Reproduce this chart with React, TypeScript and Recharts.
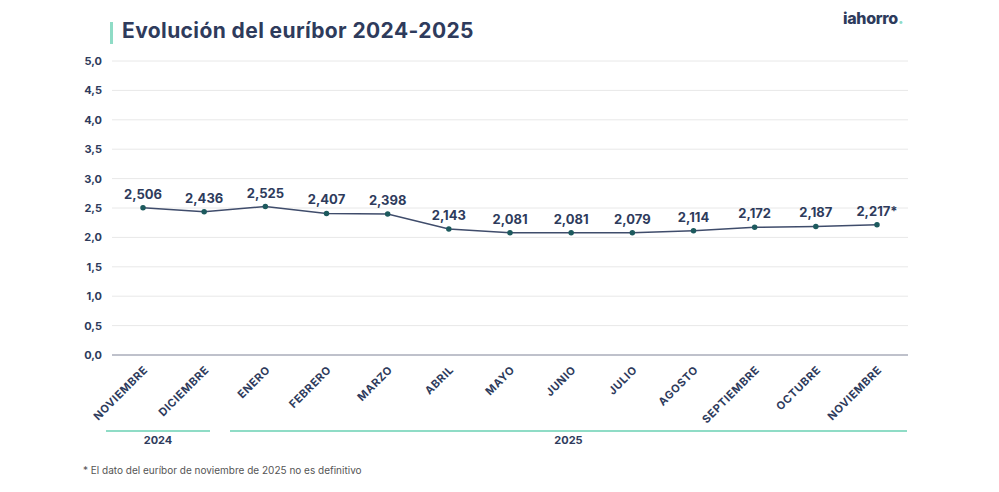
import { CartesianGrid, LabelList, Line, LineChart, XAxis, YAxis } from "recharts";

const MONTHS = [
  "NOVIEMBRE",
  "DICIEMBRE",
  "ENERO",
  "FEBRERO",
  "MARZO",
  "ABRIL",
  "MAYO",
  "JUNIO",
  "JULIO",
  "AGOSTO",
  "SEPTIEMBRE",
  "OCTUBRE",
  "NOVIEMBRE",
];

const EURIBOR = [2.506, 2.436, 2.525, 2.407, 2.398, 2.143, 2.081, 2.081, 2.079, 2.114, 2.172, 2.187, 2.217];

const Y_TICKS = [0, 0.5, 1, 1.5, 2, 2.5, 3, 3.5, 4, 4.5, 5];

const NAVY = "#2e3b5c";
const TEAL = "#8fdcc6";
const FONT = "Inter, 'Open Sans', sans-serif";

const data = MONTHS.map((m, i) => ({ idx: i, month: m, value: EURIBOR[i] }));

const fmt = (v: number, digits: number) => v.toFixed(digits).replace(".", ",");

export default function App() {
  return (
    <div
      style={{
        position: "absolute",
        top: 0,
        left: 0,
        width: 999,
        height: 492,
        background: "#fff",
        fontFamily: FONT,
        color: NAVY,
      }}
    >
      <div style={{ position: "absolute", left: 110, top: 22, width: 3, height: 22, background: TEAL }} />
      <div style={{ position: "absolute", left: 122, top: 18, fontSize: 21, fontWeight: 700, letterSpacing: 0.4 }}>
        Evolución del euríbor 2024-2025
      </div>
      <div style={{ position: "absolute", left: 843, top: 8, fontSize: 16, fontWeight: 800, letterSpacing: -0.3 }}>
        iahorro<span style={{ color: TEAL }}>.</span>
      </div>

      <LineChart
        width={999}
        height={492}
        data={data}
        margin={{ top: 61, right: 91, bottom: 77, left: 72 }}
      >
        <CartesianGrid horizontal vertical={false} stroke="#e8e8e8" />
        <XAxis
          dataKey="idx"
          type="category"
          tickFormatter={(i: number) => MONTHS[i]}
          interval={0}
          angle={-45}
          textAnchor="end"
          height={60}
          padding={{ left: 31, right: 31 }}
          tickLine={false}
          axisLine={{ stroke: "#8a8fa3" }}
          tick={{ fill: NAVY, fontSize: 11, fontWeight: 700, fontFamily: FONT, letterSpacing: 0.6 }}
          tickMargin={4}
        />
        <YAxis
          domain={[0, 5]}
          ticks={Y_TICKS}
          width={40}
          tickLine={false}
          axisLine={false}
          tickFormatter={(v: number) => fmt(v, 1)}
          tick={{ fill: NAVY, fontSize: 11, fontWeight: 700, fontFamily: FONT }}
          tickMargin={4}
        />
        <Line
          dataKey="value"
          stroke="#3f4c6b"
          strokeWidth={1.5}
          dot={{ r: 2, fill: "#1d5a5e", stroke: "#1d5a5e" }}
          isAnimationActive={false}
        >
          <LabelList
            dataKey="value"
            position="top"
            offset={9}
            formatter={(v: number) => {
              const s = fmt(v, 3);
              return v === EURIBOR[EURIBOR.length - 1] ? s + "*" : s;
            }}
            style={{ fill: NAVY, fontSize: 13, fontWeight: 700, fontFamily: FONT }}
          />
        </Line>
      </LineChart>

      <div style={{ position: "absolute", left: 106, top: 430, width: 104, height: 1.5, background: TEAL }} />
      <div style={{ position: "absolute", left: 230, top: 430, width: 677, height: 1.5, background: TEAL }} />
      <div style={{ position: "absolute", left: 106, top: 433, width: 104, textAlign: "center", fontSize: 11, fontWeight: 700 }}>
        2024
      </div>
      <div style={{ position: "absolute", left: 230, top: 433, width: 677, textAlign: "center", fontSize: 11, fontWeight: 700 }}>
        2025
      </div>
      <div style={{ position: "absolute", left: 83, top: 464, fontSize: 10, color: "#555" }}>
        * El dato del euríbor de noviembre de 2025 no es definitivo
      </div>
    </div>
  );
}
